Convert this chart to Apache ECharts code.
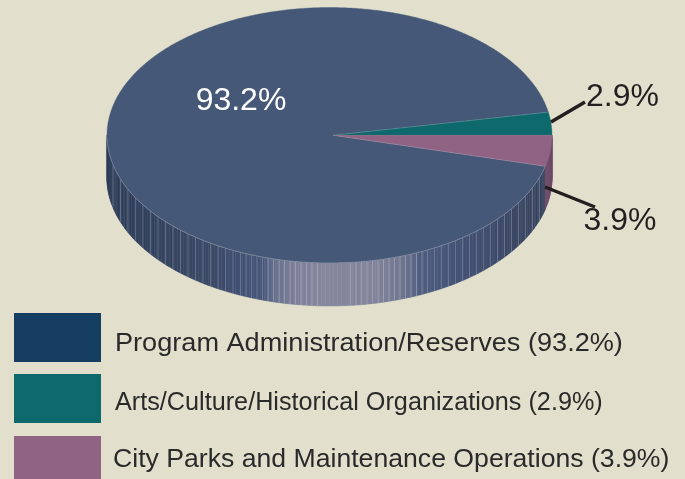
<!DOCTYPE html>
<html>
<head>
<meta charset="utf-8">
<title>Program share</title>
<script src="https://cdn.jsdelivr.net/npm/echarts@6/dist/echarts.min.js"></script>
<style>
  html, body { margin: 0; padding: 0; background: #e2e0cc; }
  #chart { width: 685px; height: 479px; }
</style>
</head>
<body>
<div id="chart"></div>
<script>
  const categories = [
    'Program Administration/Reserves',
    'Arts/Culture/Historical Organizations',
    'City Parks and Maintenance Operations'
  ]
  const shares = [93.2, 2.9, 3.9]

  const faceColors = ['#455877', '#0e696c', '#906284']
  const swatchColors = ['#163e63', '#0e696c', '#906284']

  // ellipse of the top face
  const CX = 329.5, CY = 135.25, RX = 222.5, RY = 127.75, DEPTH = 43
  const APEX_X = 333
  const START_DEG = 345.96 // first slice starts here and runs clockwise

  // shade of the blue wall by x position
  const wallStops = [
    [107, '#2d3c58'], [200, '#3a4865'], [262, '#46557a'], [275, '#67708c'],
    [295, '#7c7f98'], [325, '#86889f'], [380, '#7f8299'], [402, '#6f7590'],
    [422, '#4f5c7e'], [445, '#45547a'], [485, '#3f4c6c'], [552, '#35425d']
  ]

  function wallColor (x) {
    for (let i = 1; i < wallStops.length; i++) {
      if (x <= wallStops[i][0]) {
        let a = wallStops[i - 1], b = wallStops[i]
        return echarts.color.lerp((x - a[0]) / (b[0] - a[0]), [a[1], b[1]])
      }
    }
    return wallStops[wallStops.length - 1][1]
  }

  function pt (deg, dy) {
    let r = deg * Math.PI / 180
    return [CX + RX * Math.cos(r), CY - RY * Math.sin(r) + (dy || 0)]
  }

  function sliceRange (index, api) {
    // walks clockwise, returns [high, low] in degrees
    let high = START_DEG
    for (let i = 0; i < index; i++) high -= shares[i] * 3.6
    return [high, high - api.value(1) * 3.6]
  }

  function isFront (deg) {
    let d = ((deg % 360) + 360) % 360
    return d > 180
  }

  function facetLines () {
    // facets sit closer together under the highlight
    let lines = []
    let x = 113
    while (x < 546) {
      if (x < 323 || x > 345) {
        let deg = 360 - Math.acos((x - CX) / RX) * 180 / Math.PI
        let top = pt(deg), alpha = x > 265 && x < 425 ? 0.42 : 0.3
        lines.push({
          type: 'line',
          shape: { x1: top[0], y1: top[1], x2: top[0], y2: top[1] + DEPTH },
          style: { stroke: 'rgba(190,195,210,' + alpha + ')', lineWidth: 1 }
        })
      }
      x += x < 235 ? 7.5 : x < 425 ? 5.5 : 7
    }
    return lines
  }

  function renderWall (params, api) {
    let [high, low] = sliceRange(params.dataIndex, api)
    let children = []
    for (let d = Math.floor(low); d < high; d++) {
      let a = Math.max(d, low), b = Math.min(d + 1, high)
      if (b <= a || !isFront((a + b) / 2)) continue
      let p0 = pt(a), p1 = pt(b), p2 = pt(b, DEPTH), p3 = pt(a, DEPTH)
      let fill = params.dataIndex === 0 ? wallColor((p0[0] + p1[0]) / 2) : '#6c4a69'
      children.push({
        type: 'polygon',
        shape: { points: [p0, p1, p2, p3] },
        style: { fill: fill, stroke: fill, lineWidth: 0.5 }
      })
    }
    if (params.dataIndex === 0) children = children.concat(facetLines())
    return { type: 'group', children: children }
  }

  function renderTop (params, api) {
    let [high, low] = sliceRange(params.dataIndex, api)
    let apex = [APEX_X, CY]
    let points = [apex]
    let rim = []
    let steps = Math.ceil((high - low) / 0.5)
    for (let i = 0; i <= steps; i++) rim.push(pt(high - (high - low) * i / steps))
    points = points.concat(rim)
    let fill = faceColors[params.dataIndex]
    let children = [{
      type: 'polygon',
      shape: { points: points },
      style: { fill: fill, stroke: fill, lineWidth: 0.4 }
    }]
    if (params.dataIndex === 0) {
      // pale edge along the front of the rim
      let front = rim.filter(p => p[1] > CY + 2)
      children.push({
        type: 'polyline',
        shape: { points: front },
        style: { fill: null, stroke: 'rgba(170,178,195,0.6)', lineWidth: 0.8 }
      })
    } else {
      let edge = params.dataIndex === 1 ? rim[0] : rim[rim.length - 1]
      children.push({
        type: 'line',
        shape: { x1: apex[0], y1: apex[1], x2: edge[0], y2: edge[1] },
        style: { stroke: 'rgba(170,178,195,0.45)', lineWidth: 0.7 }
      })
    }
    return { type: 'group', children: children }
  }

  const labelSpots = [
    { x: 241, y: 101, fill: '#ffffff' },
    { x: 622.5, y: 97, fill: '#231f20', line: [[551, 122], [585, 102]] },
    { x: 620, y: 221, fill: '#231f20', line: [[545, 187], [595, 207]] }
  ]

  function renderLabel (params, api) {
    let spot = labelSpots[params.dataIndex]
    let children = []
    if (spot.line) {
      children.push({
        type: 'line',
        shape: { x1: spot.line[0][0], y1: spot.line[0][1], x2: spot.line[1][0], y2: spot.line[1][1] },
        style: { stroke: '#231f20', lineWidth: 3.5 }
      })
    }
    children.push({
      type: 'text',
      x: spot.x,
      y: spot.y,
      style: {
        text: api.value(1).toFixed(1) + '%',
        fill: spot.fill,
        font: '32px "Liberation Sans", Arial, sans-serif',
        align: 'center',
        verticalAlign: 'middle'
      }
    })
    return { type: 'group', children: children }
  }

  const legendRows = [
    { box: 313, h: 49, x: 115, y: 344, scaleX: 1.043 },
    { box: 374, h: 49, x: 115, y: 403, scaleX: 0.97 },
    { box: 436, h: 43, x: 113, y: 460, scaleX: 1.024 }
  ]

  const seriesData = categories.map((name, i) => ({ name: name, value: [i, shares[i]] }))

  const legendGraphics = []
  categories.forEach((name, i) => {
    let row = legendRows[i]
    legendGraphics.push({
      type: 'rect',
      shape: { x: 14, y: row.box, width: 87, height: row.h },
      style: { fill: swatchColors[i] }
    })
    legendGraphics.push({
      type: 'text',
      x: row.x,
      y: row.y,
      scaleX: row.scaleX,
      style: {
        text: name + ' (' + shares[i].toFixed(1) + '%)',
        fill: '#2b2a2a',
        font: '26px "Liberation Sans", Arial, sans-serif',
        verticalAlign: 'middle'
      }
    })
  })

  const chart = echarts.init(document.getElementById('chart'), null, { renderer: 'canvas' })
  chart.setOption({
    animation: false,
    backgroundColor: '#e2e0cc',
    tooltip: { show: false },
    series: [
      { type: 'custom', coordinateSystem: 'none', silent: true, renderItem: renderWall, data: seriesData, z: 1 },
      { type: 'custom', coordinateSystem: 'none', silent: true, renderItem: renderTop, data: seriesData, z: 2 },
      { type: 'custom', coordinateSystem: 'none', silent: true, renderItem: renderLabel, data: seriesData, z: 3 }
    ],
    graphic: legendGraphics
  })
</script>
</body>
</html>
